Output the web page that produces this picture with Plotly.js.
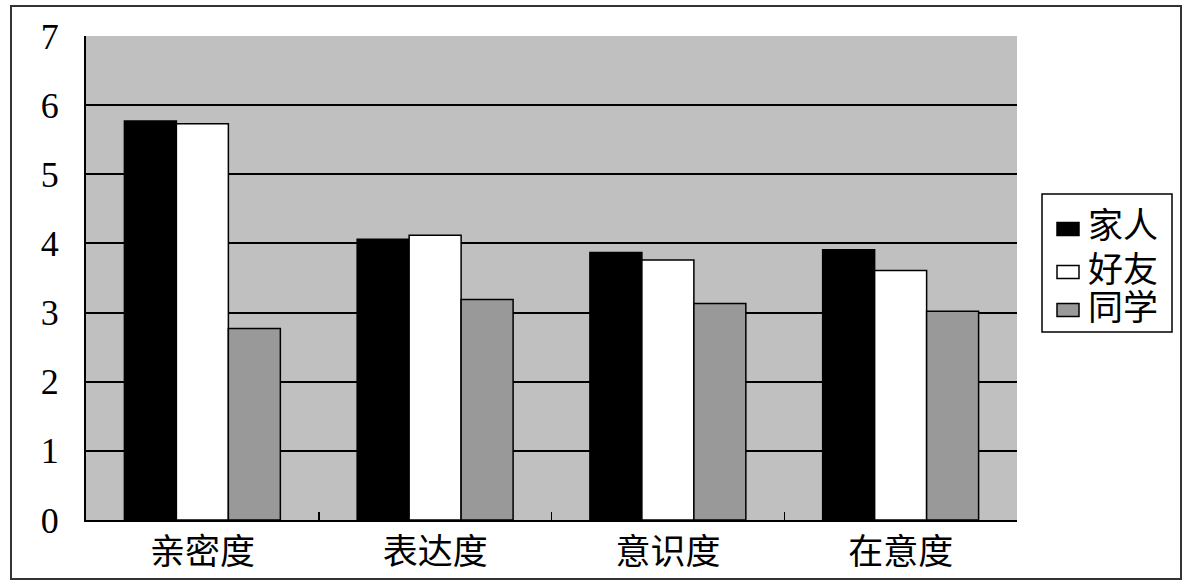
<!DOCTYPE html>
<html>
<head>
<meta charset="utf-8">
<script src="https://cdn.plot.ly/plotly-3.0.1.min.js"></script>
<style>html,body{margin:0;padding:0;background:#fff;}</style>
</head>
<body>
<div id="chart" style="width:1194px;height:588px;"></div>
<script>
const categories = ["亲密度", "表达度", "意识度", "在意度"];
const seriesNames = ["家人", "好友", "同学"];
const family = [5.77, 4.06, 3.87, 3.91];
const friends = [5.73, 4.12, 3.76, 3.61];
const classmates = [2.77, 3.19, 3.13, 3.02];
const yTicks = [0, 1, 2, 3, 4, 5, 6, 7];

const fontFam = "Liberation Serif, Times New Roman, Noto Sans CJK SC, serif";
const colors = ["#000000", "#ffffff", "#999999"];
const values = [family, friends, classmates];

const traces = values.map((v, i) => ({
  type: "bar",
  name: seriesNames[i],
  x: categories,
  y: v,
  marker: {color: colors[i], line: {color: "#000", width: 1.5}},
  hoverinfo: "skip",
  showlegend: false
}));

// plot area in pixels: x 86..1017, y 36..520
const W = 1194, H = 588, L = 86, R = 177, T = 36, B = 68;
const pw = W - L - R, ph = H - T - B;
const px = v => (v - L) / pw;
const py = v => (H - B - v) / ph;

const shapes = [{
  type: "rect", xref: "paper", yref: "paper",
  x0: px(11), x1: px(1181), y0: py(579), y1: py(6),
  line: {color: "#333", width: 2}, fillcolor: "rgba(0,0,0,0)", layer: "below"
}, {
  type: "rect", xref: "paper", yref: "paper",
  x0: px(1042), x1: px(1172), y0: py(332), y1: py(194),
  line: {color: "#000", width: 1.5}, fillcolor: "#fff", layer: "above"
}];
const annotations = [];
const rowCenters = [229, 272, 310];
seriesNames.forEach((name, i) => {
  const c = rowCenters[i];
  shapes.push({
    type: "rect", xref: "paper", yref: "paper",
    x0: px(1057), x1: px(1079), y0: py(c + 6.5), y1: py(c - 6.5),
    line: {color: "#000", width: 1.5}, fillcolor: colors[i], layer: "above"
  });
  annotations.push({
    xref: "paper", yref: "paper", x: px(1086), y: py(c - 2),
    xanchor: "left", yanchor: "middle", showarrow: false,
    text: name, font: {family: fontFam, size: 35, color: "#000"}
  });
});

const layout = {
  width: W, height: H,
  margin: {l: L, r: R, t: T, b: B},
  paper_bgcolor: "#ffffff",
  plot_bgcolor: "#c0c0c0",
  barmode: "group",
  bargap: 0.33,
  bargroupgap: 0,
  font: {family: fontFam, color: "#000"},
  showlegend: false,
  xaxis: {
    type: "category",
    showline: true, linecolor: "#000", linewidth: 2,
    ticks: "inside", ticklen: 8, tickcolor: "#000", tickwidth: 1.5,
    tickson: "boundaries",
    showgrid: false,
    tickfont: {family: fontFam, size: 35, color: "#000"}
  },
  yaxis: {
    range: [0, 7],
    tickvals: yTicks,
    ticktext: yTicks.map(String),
    showline: true, linecolor: "#000", linewidth: 2,
    ticks: "inside", ticklen: 10, tickcolor: "#000", tickwidth: 1.5,
    showgrid: true, gridcolor: "#000", gridwidth: 2,
    zeroline: false,
    ticklabelstandoff: 18,
    tickfont: {family: fontFam, size: 36, color: "#000"}
  },
  shapes: shapes,
  annotations: annotations
};

Plotly.newPlot("chart", traces, layout, {staticPlot: true});
</script>
</body>
</html>
